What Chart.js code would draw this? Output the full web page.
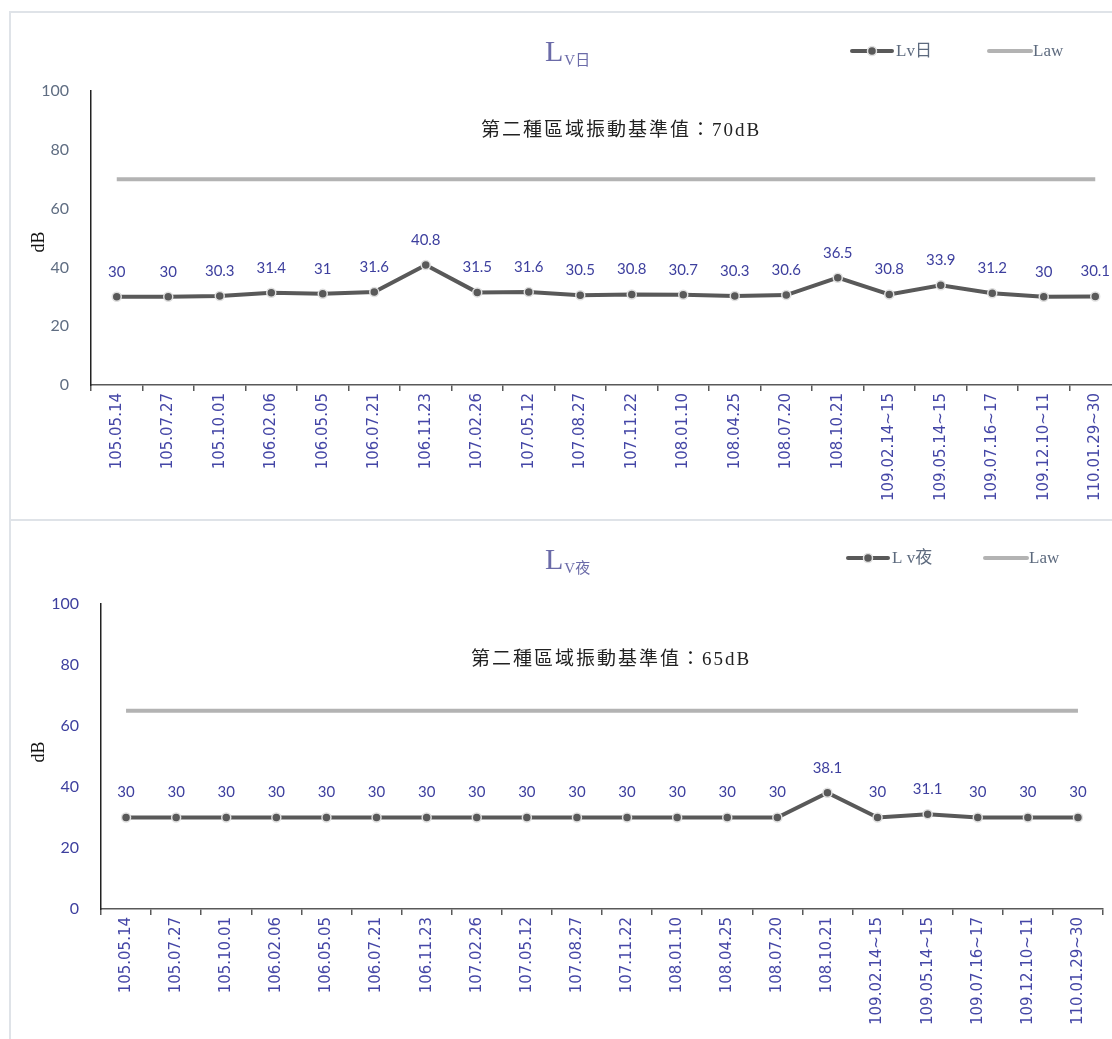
<!DOCTYPE html>
<html>
<head>
<meta charset="utf-8">
<script src="https://cdn.jsdelivr.net/npm/chart.js@4.4.1/dist/chart.umd.min.js"></script>
<style>
  html, body { margin: 0; padding: 0; background: #fff; overflow: hidden; width: 1112px; height: 1039px; }
  .box { position: absolute; left: 9px; border-left: 2px solid #dfe3e8; border-top: 2px solid #dfe3e8; }
  #box1 { top: 11px; width: 1135px; height: 508px; }
  #box2 { top: 519px; width: 1135px; height: 520px; }
  canvas { display: block; }
</style>
</head>
<body>
<div class="box" id="box1"><canvas id="c1"></canvas></div>
<div class="box" id="box2"><canvas id="c2"></canvas></div>
<script>
// categories (sampling dates)
const dates = ['105.05.14','105.07.27','105.10.01','106.02.06','106.05.05','106.07.21','106.11.23',
  '107.02.26','107.05.12','107.08.27','107.11.22','108.01.10','108.04.25','108.07.20','108.10.21',
  '109.02.14~15','109.05.14~15','109.07.16~17','109.12.10~11','110.01.29~30'];
// series
const lvDay = [30,30,30.3,31.4,31,31.6,40.8,31.5,31.6,30.5,30.8,30.7,30.3,30.6,36.5,30.8,33.9,31.2,30,30.1];
const lvNight = [30,30,30,30,30,30,30,30,30,30,30,30,30,30,38.1,30,31.1,30,30,30];
const lawDay = 70;
const lawNight = 65;
const yTicks = [0,20,40,60,80,100];

const lineColor = '#595959';
const lawColor = '#b3b3b3';
const blue = '#3d3f9e';
const serif = '"Liberation Serif", "Noto Sans CJK TC", serif';

function legendMarker(){
  const c = document.createElement('canvas');
  c.width = 46; c.height = 12;
  const g = c.getContext('2d');
  g.strokeStyle = lineColor; g.lineWidth = 4; g.lineCap = 'round';
  g.beginPath(); g.moveTo(3,6); g.lineTo(43,6); g.stroke();
  g.fillStyle = lineColor; g.strokeStyle = '#e0e0e0'; g.lineWidth = 1.5;
  g.beginPath(); g.arc(23,6,4.5,0,Math.PI*2); g.fill(); g.stroke();
  return c;
}

function deco(cfg){
  return {
    id: 'deco',
    afterDatasetsDraw(chart){
      const ctx = chart.ctx;
      ctx.save();
      // data labels
      const meta = chart.getDatasetMeta(0);
      ctx.font = '15px Lato, "Open Sans", sans-serif';
      ctx.fillStyle = blue;
      ctx.textAlign = 'center';
      ctx.textBaseline = 'middle';
      meta.data.forEach((p, i) => {
        ctx.fillText(String(chart.data.datasets[0].data[i]), p.x, p.y - 25);
      });
      // y axis title
      ctx.save();
      ctx.translate(cfg.dbX, cfg.dbY);
      ctx.rotate(-Math.PI / 2);
      ctx.fillStyle = '#111';
      ctx.font = '18px ' + serif;
      ctx.fillText('dB', 0, 0);
      ctx.restore();
      // title L with subscript
      ctx.fillStyle = '#6b6ba8';
      ctx.textAlign = 'left';
      ctx.textBaseline = 'alphabetic';
      ctx.font = '30px ' + serif;
      ctx.fillText('L', cfg.titleX, cfg.titleY);
      const w = ctx.measureText('L').width;
      ctx.font = '15px ' + serif;
      ctx.fillText(cfg.sub, cfg.titleX + w + 1, cfg.titleY + 4);
      // standard annotation
      ctx.fillStyle = '#222';
      ctx.font = '19px ' + serif;
      ctx.letterSpacing = '2px';
      ctx.textAlign = 'center';
      ctx.fillText(cfg.note, cfg.noteX, cfg.noteY);
      ctx.letterSpacing = '0px';
      // legend
      const mk = legendMarker();
      ctx.drawImage(mk, cfg.legX, cfg.legY - 6);
      ctx.font = '17px ' + serif;
      ctx.fillStyle = '#5d6a7e';
      ctx.textAlign = 'left';
      ctx.textBaseline = 'middle';
      ctx.fillText(cfg.legName, cfg.legX + 47, cfg.legY + 1);
      ctx.strokeStyle = lawColor; ctx.lineWidth = 4; ctx.lineCap = 'round';
      ctx.beginPath(); ctx.moveTo(cfg.legX + 140, cfg.legY); ctx.lineTo(cfg.legX + 182, cfg.legY); ctx.stroke();
      ctx.fillText('Law', cfg.legX + 184, cfg.legY + 1);
      ctx.restore();
    }
  };
}

function makeChart(id, w, h, values, law, cfg){
  const cv = document.getElementById(id);
  cv.width = w; cv.height = h;
  cv.style.width = w + 'px'; cv.style.height = h + 'px';
  return new Chart(cv, {
    type: 'line',
    data: {
      labels: dates,
      datasets: [
        {
          label: cfg.legName,
          data: values,
          borderColor: lineColor,
          borderWidth: 4,
          pointRadius: 4.5,
          pointBackgroundColor: lineColor,
          pointBorderColor: '#e0e0e0',
          pointBorderWidth: 1.5,
          tension: 0
        },
        {
          label: 'Law',
          data: dates.map(() => law),
          borderColor: lawColor,
          borderWidth: 4,
          pointRadius: 0,
          tension: 0
        }
      ]
    },
    options: {
      responsive: false,
      animation: false,
      layout: { padding: { left: 0, right: cfg.padRight, top: cfg.padTop, bottom: 0 } },
      plugins: { legend: { display: false }, tooltip: { enabled: false } },
      scales: {
        x: {
          offset: true,
          afterFit: s => { s.height = cfg.xHeight; },
          border: { display: true, color: lineColor, width: 1.5 },
          grid: { display: true, drawOnChartArea: false, drawTicks: true, tickLength: 6, offset: true, color: lineColor, lineWidth: 1.5 },
          ticks: { minRotation: 90, maxRotation: 90, autoSkip: false, padding: 2, color: '#4446a6',
                   font: { family: '"DejaVu Sans", Verdana, sans-serif', size: 15 } }
        },
        y: {
          min: 0, max: 100,
          afterFit: s => { s.width = cfg.yWidth; },
          afterBuildTicks: s => { s.ticks = yTicks.map(v => ({ value: v })); },
          border: { display: true, color: '#222', width: 1.5 },
          grid: { display: false },
          ticks: { padding: 14, color: cfg.yTickColor, font: { family: 'Lato, "Open Sans", sans-serif', size: 16 } }
        }
      }
    },
    plugins: [deco(cfg)]
  });
}

makeChart('c1', 1116, 507, lvDay, lawDay, {
  padTop: 78, padRight: 0, xHeight: 135, yWidth: 80, yTickColor: '#5f6d82',
  dbX: 28, dbY: 229,
  titleX: 534, titleY: 48, sub: 'V日',
  note: '第二種區域振動基準值：70dB', noteX: 610, noteY: 123,
  legX: 838, legY: 38, legName: 'Lv日'
});
makeChart('c2', 1100, 518, lvNight, lawNight, {
  padTop: 83, padRight: 8, xHeight: 130, yWidth: 90, yTickColor: blue,
  dbX: 28, dbY: 231,
  titleX: 534, titleY: 48, sub: 'V夜',
  note: '第二種區域振動基準值：65dB', noteX: 600, noteY: 144,
  legX: 834, legY: 37, legName: 'L v夜'
});
</script>
</body>
</html>
